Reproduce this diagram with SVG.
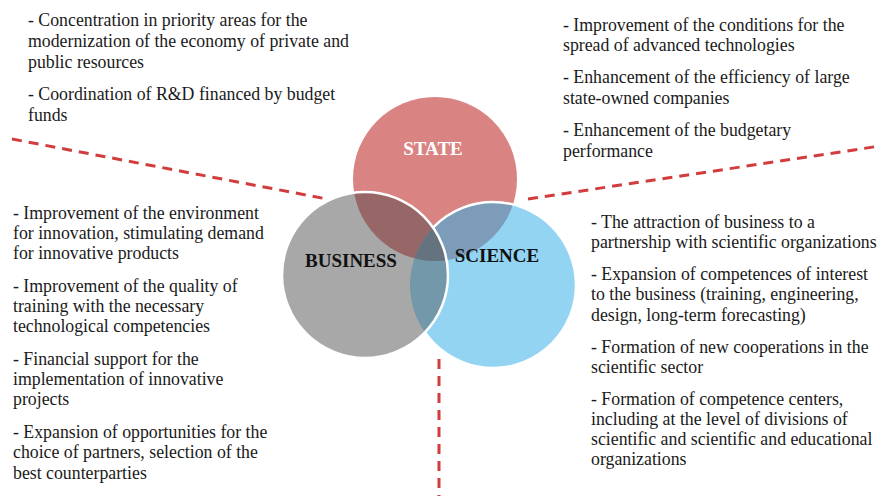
<svg xmlns="http://www.w3.org/2000/svg" width="880" height="496" viewBox="0 0 880 496">
  <style>
    text { font-family: "Liberation Serif", "Times New Roman", serif; }
    .txt { font-size: 17.8px; fill: #1a1a1a; }
    .lbl { font-size: 19px; font-weight: bold; }
    .rim { fill: none; stroke: #ffffff; stroke-width: 2.5; }
    .dash { fill: none; stroke: #d23c3c; stroke-width: 3; stroke-dasharray: 10 7; }
  </style>
  <defs>
    <clipPath id="clip-state"><circle cx="435" cy="179" r="82"/></clipPath>
    <clipPath id="clip-science"><circle cx="493" cy="285" r="83"/></clipPath>
  </defs>

  <rect width="880" height="496" fill="#ffffff"/>

  <!-- dividing dashed lines -->
  <g id="connectors">
    <line class="dash" x1="12" y1="139" x2="327" y2="199"/>
    <line class="dash" x1="528" y1="199" x2="880" y2="146"/>
    <line class="dash" x1="439" y1="359" x2="439" y2="496" stroke-dasharray="10 8"/>
  </g>

  <!-- STATE circle -->
  <g id="state">
    <circle cx="435" cy="179" r="82" fill="#d98383"/>
    <text class="lbl" x="433" y="155" text-anchor="middle" fill="#ffffff">STATE</text>
  </g>

  <!-- SCIENCE circle with its overlap on STATE -->
  <g id="science">
    <circle cx="493" cy="285" r="83" fill="#93d4f3"/>
    <circle cx="493" cy="285" r="83" fill="#7c9cba" clip-path="url(#clip-state)"/>
    <circle class="rim" cx="493" cy="285" r="83"/>
    <text class="lbl" x="497" y="262" text-anchor="middle" fill="#111111">SCIENCE</text>
  </g>

  <!-- BUSINESS circle with its overlaps on STATE and SCIENCE -->
  <g id="business">
    <circle cx="365" cy="275" r="83" fill="#a8a8a8"/>
    <circle cx="365" cy="275" r="83" fill="#976767" clip-path="url(#clip-state)"/>
    <circle cx="365" cy="275" r="83" fill="#7298aa" clip-path="url(#clip-science)"/>
    <g clip-path="url(#clip-state)">
      <circle cx="365" cy="275" r="83" fill="#65737e" clip-path="url(#clip-science)"/>
    </g>
    <circle class="rim" cx="365" cy="275" r="83"/>
    <text class="lbl" x="351" y="267" text-anchor="middle" fill="#111111">BUSINESS</text>
  </g>

  <!-- STATE tasks, upper left -->
  <g id="state-tasks-left">
    <text class="txt">
      <tspan x="28" y="26">- Concentration in priority areas for the</tspan>
      <tspan x="28" y="47">modernization of the economy of private and</tspan>
      <tspan x="28" y="68">public resources</tspan>
      <tspan x="28" y="100">- Coordination of R&amp;D financed by budget</tspan>
      <tspan x="28" y="121">funds</tspan>
    </text>
  </g>

  <!-- STATE tasks, upper right -->
  <g id="state-tasks-right">
    <text class="txt">
      <tspan x="563" y="31">- Improvement of the conditions for the</tspan>
      <tspan x="563" y="51">spread of advanced technologies</tspan>
      <tspan x="563" y="83">- Enhancement of the efficiency of large</tspan>
      <tspan x="563" y="104">state-owned companies</tspan>
      <tspan x="563" y="136">- Enhancement of the budgetary</tspan>
      <tspan x="563" y="157">performance</tspan>
    </text>
  </g>

  <!-- BUSINESS tasks -->
  <g id="business-tasks">
    <text class="txt">
      <tspan x="13" y="219">- Improvement of the environment</tspan>
      <tspan x="13" y="239">for innovation, stimulating demand</tspan>
      <tspan x="13" y="259">for innovative products</tspan>
      <tspan x="13" y="292">- Improvement of the quality of</tspan>
      <tspan x="13" y="312">training with the necessary</tspan>
      <tspan x="13" y="332">technological competencies</tspan>
      <tspan x="13" y="365">- Financial support for the</tspan>
      <tspan x="13" y="385">implementation of innovative</tspan>
      <tspan x="13" y="405">projects</tspan>
      <tspan x="13" y="438">- Expansion of opportunities for the</tspan>
      <tspan x="13" y="458">choice of partners, selection of the</tspan>
      <tspan x="13" y="479">best counterparties</tspan>
    </text>
  </g>

  <!-- SCIENCE tasks -->
  <g id="science-tasks">
    <text class="txt">
      <tspan x="591" y="228">- The attraction of business to a</tspan>
      <tspan x="591" y="248">partnership with scientific organizations</tspan>
      <tspan x="591" y="280">- Expansion of competences of interest</tspan>
      <tspan x="591" y="300">to the business (training, engineering,</tspan>
      <tspan x="591" y="321">design, long-term forecasting)</tspan>
      <tspan x="591" y="353">- Formation of new cooperations in the</tspan>
      <tspan x="591" y="373">scientific sector</tspan>
      <tspan x="591" y="405">- Formation of competence centers,</tspan>
      <tspan x="591" y="425">including at the level of divisions of</tspan>
      <tspan x="591" y="445">scientific and scientific and educational</tspan>
      <tspan x="591" y="465">organizations</tspan>
    </text>
  </g>
</svg>
